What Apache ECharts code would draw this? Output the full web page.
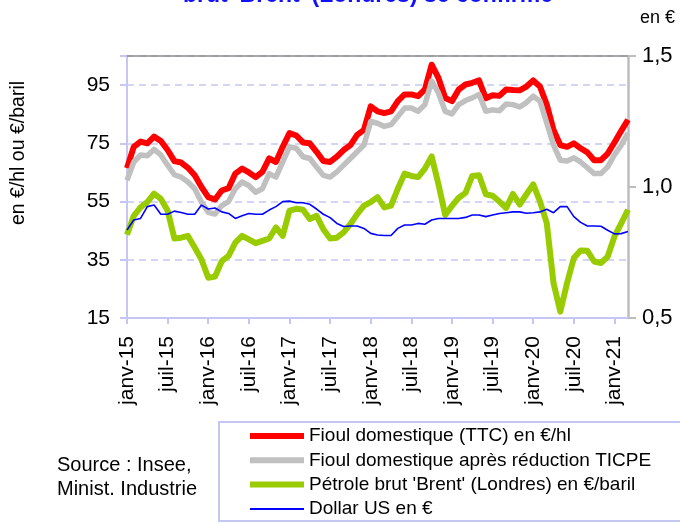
<!DOCTYPE html>
<html>
<head>
<meta charset="utf-8">
<script src="https://cdn.jsdelivr.net/npm/echarts@6/dist/echarts.min.js"></script>
<style>
  html, body { margin: 0; padding: 0; background: #fff; }
  #chart { width: 680px; height: 523px; }
</style>
</head>
<body>
<div id="chart"></div>
<script>
// mois de janv-15 a mars-21
const monthNames = ['janv', 'févr', 'mars', 'avr', 'mai', 'juin', 'juil', 'août', 'sept', 'oct', 'nov', 'déc']
const months = []
for (let y = 15; y <= 21; y++) {
    for (let m = 0; m < 12; m++) {
        if (y === 21 && m > 2) break
        months.push(monthNames[m] + '-' + y)
    }
}

// Fioul domestique (TTC) en €/hl
const fioulTTC = [
    66.5, 73.8, 75.6, 75, 77.3, 75.8, 72.7, 68.9, 68.4, 66.6, 64, 60,
    56.5, 55.7, 58.8, 59.6, 64.6, 66.3, 65, 63.4, 65.2, 69.8, 68.6, 73.8,
    78.5, 77.7, 75.3, 75, 72.1, 68.9, 68.6, 70.4, 72.7, 74.4, 77.9, 79.6,
    87.7, 86, 85.4, 86, 89.5, 91.8, 91.8, 91.2, 93.5, 102, 97.5, 90.6,
    89.5, 93.5, 95.2, 95.8, 96.6, 90.5, 91.5, 91.3, 93.5, 93.3, 93.2, 94.5,
    96.6, 94.5, 88.3, 79.6, 74.4, 73.8, 75, 73.3, 71.9, 69.2, 69.2, 71.5,
    75.3, 79.3, 83.1
]
// Fioul domestique apres reduction TICPE
const fioulTICPE = [
    62.3, 68.6, 71, 70.7, 72.9, 71, 67.5, 64.2, 63.4, 61.7, 59.4, 54.8,
    51.3, 50.7, 53.6, 55, 59.4, 61.7, 60.5, 58.2, 59.4, 64.6, 63.4, 68.6,
    73.8, 73.3, 70.4, 69.8, 66.9, 64, 63.4, 65.2, 67.5, 69.8, 72.1, 74.4,
    82.5, 81.9, 80.8, 81.4, 84.2, 87.1, 87.1, 86, 88.3, 96.4, 92.3, 86,
    85.1, 88.3, 89.7, 90.6, 91.8, 86, 86.5, 86.2, 88.5, 88.3, 87.5, 89,
    91.2, 89.5, 82, 74.4, 69.2, 68.9, 70, 68.6, 66.6, 64.6, 64.6, 66.9,
    71, 74.4, 78.5
]
// Petrole brut 'Brent' (Londres) en €/baril
const brent = [
    43.6, 50.1, 53, 54.8, 57.7, 55.9, 51.9, 42.3, 42.6, 43.2, 39.2, 35.1,
    28.8, 29.2, 34.5, 36.3, 40.9, 43.2, 42, 40.7, 41.5, 42.3, 46.1, 43.2,
    51.9, 52.5, 52.2, 49, 50.1, 45.5, 42.3, 42.6, 44.4, 47.3, 50.7, 53.6,
    54.8, 56.5, 53, 53.6, 59.4, 64.6, 63.8, 63.4, 66.3, 70.5, 61, 50.4,
    53.5, 56.3, 58, 63.8, 64, 57.5, 57, 55, 52.8, 57.6, 54, 57.5,
    60.9, 55.1, 47.6, 27, 17.2, 27, 35.6, 38.2, 38.1, 34.4, 33.9, 36.1,
    43, 47.5, 52.2
]
// Dollar US en €
const dollar = [
    0.836, 0.874, 0.88, 0.925, 0.931, 0.896, 0.896, 0.908, 0.903, 0.896, 0.896, 0.931,
    0.916, 0.92, 0.905, 0.899, 0.88, 0.89, 0.899, 0.896, 0.896, 0.912, 0.925, 0.944,
    0.946, 0.94, 0.94, 0.934, 0.916, 0.896, 0.883, 0.861, 0.849, 0.851, 0.851, 0.842,
    0.823, 0.817, 0.815, 0.815, 0.842, 0.855, 0.855, 0.861, 0.858, 0.874, 0.88, 0.88,
    0.88, 0.88, 0.884, 0.893, 0.893, 0.887, 0.893, 0.899, 0.902, 0.905, 0.905, 0.9,
    0.902, 0.905, 0.915, 0.902, 0.925, 0.925, 0.887, 0.865, 0.851, 0.851, 0.85, 0.835,
    0.821, 0.822, 0.83
]

const font = 'Liberation Sans, Arial, sans-serif'
const lavender = '#c6c6f2'

const chart = echarts.init(document.getElementById('chart'))
chart.setOption({
    animation: false,
    title: {
        text: "brut 'Brent' (Londres) se confirme",
        left: 178,
        top: -21,
        textStyle: { color: '#1010ff', fontSize: 23, fontWeight: 'bold', fontFamily: font }
    },
    grid: {
        left: 127,
        right: 52,
        top: 56,
        bottom: 205
    },
    legend: {
        orient: 'vertical',
        left: 247,
        top: 426.5,
        height: 140,
        padding: 0,
        itemWidth: 54,
        itemHeight: 20,
        itemGap: 5.3,
        itemStyle: { opacity: 0 },
        textStyle: { fontSize: 19, color: '#000', fontFamily: font },
        data: [
            { name: 'Fioul domestique (TTC) en €/hl', lineStyle: { width: 6 } },
            { name: 'Fioul domestique après réduction TICPE', lineStyle: { width: 6 } },
            { name: "Pétrole brut 'Brent' (Londres) en €/baril", lineStyle: { width: 6 } },
            { name: 'Dollar US en €', lineStyle: { width: 2 } }
        ]
    },
    xAxis: [{
        type: 'category',
        data: months,
        boundaryGap: false,
        axisLine: { lineStyle: { color: lavender, width: 2 } },
        axisTick: { interval: 5, length: 6, lineStyle: { color: lavender, width: 2 } },
        axisLabel: {
            interval: 5,
            rotate: 90,
            margin: 18,
            fontSize: 21,
            color: '#000',
            fontFamily: font
        }
    }, {
        type: 'category',
        data: months,
        position: 'top',
        boundaryGap: false,
        axisLine: { lineStyle: { color: '#8c8c8c', width: 1.5 } },
        axisTick: { show: false },
        axisLabel: { show: false }
    }],
    yAxis: [{
        type: 'value',
        min: 15,
        max: 105,
        interval: 20,
        axisLine: { show: true, lineStyle: { color: lavender, width: 2 } },
        axisTick: { show: true, length: 7, lineStyle: { color: lavender, width: 2 } },
        axisLabel: {
            margin: 17,
            fontSize: 21,
            color: '#000',
            fontFamily: font,
            formatter: v => (v === 105 ? '' : v)
        },
        splitLine: { lineStyle: { color: lavender, width: 1.5, type: [7, 5] } }
    }, {
        type: 'value',
        min: 0.5,
        max: 1.5,
        interval: 0.5,
        position: 'right',
        axisLine: { show: true, lineStyle: { color: '#bdbdbd', width: 2.5 } },
        axisTick: { show: true, length: 8, lineStyle: { color: '#bdbdbd', width: 2 } },
        axisLabel: {
            margin: 14,
            fontSize: 22,
            color: '#000',
            fontFamily: font,
            formatter: v => v.toFixed(1).replace('.', ',')
        },
        splitLine: { show: false }
    }],
    graphic: [
        {
            type: 'rect',
            shape: { x: 219, y: 422, width: 480, height: 99 },
            style: { fill: 'transparent', stroke: lavender, lineWidth: 2 }
        },
        {
            type: 'text',
            x: 57,
            y: 453,
            style: {
                text: 'Source : Insee,\nMinist. Industrie',
                font: '20px ' + font,
                lineHeight: 24,
                fill: '#000'
            }
        },
        {
            type: 'text',
            x: 640,
            y: 9,
            style: { text: 'en €', font: '18px ' + font, fill: '#000' }
        },
        {
            type: 'text',
            x: 19,
            y: 153,
            rotation: Math.PI / 2,
            style: {
                text: 'en €/hl ou €/baril',
                font: '19.5px ' + font,
                fill: '#000',
                align: 'center',
                verticalAlign: 'middle'
            }
        }
    ],
    series: [
        {
            name: 'Fioul domestique (TTC) en €/hl',
            type: 'line',
            data: fioulTTC,
            symbol: 'none',
            lineStyle: { color: '#ff0000', width: 6, join: 'round' },
            itemStyle: { color: '#ff0000' }
        },
        {
            name: 'Fioul domestique après réduction TICPE',
            type: 'line',
            data: fioulTICPE,
            symbol: 'none',
            lineStyle: { color: '#c0c0c0', width: 5.5, join: 'round' },
            itemStyle: { color: '#c0c0c0' }
        },
        {
            name: "Pétrole brut 'Brent' (Londres) en €/baril",
            type: 'line',
            data: brent,
            symbol: 'none',
            lineStyle: { color: '#99cc00', width: 6, join: 'round' },
            itemStyle: { color: '#99cc00' }
        },
        {
            name: 'Dollar US en €',
            type: 'line',
            yAxisIndex: 1,
            data: dollar,
            symbol: 'none',
            lineStyle: { color: '#0000ff', width: 1.6 },
            itemStyle: { color: '#0000ff' }
        }
    ]
})
</script>
</body>
</html>
